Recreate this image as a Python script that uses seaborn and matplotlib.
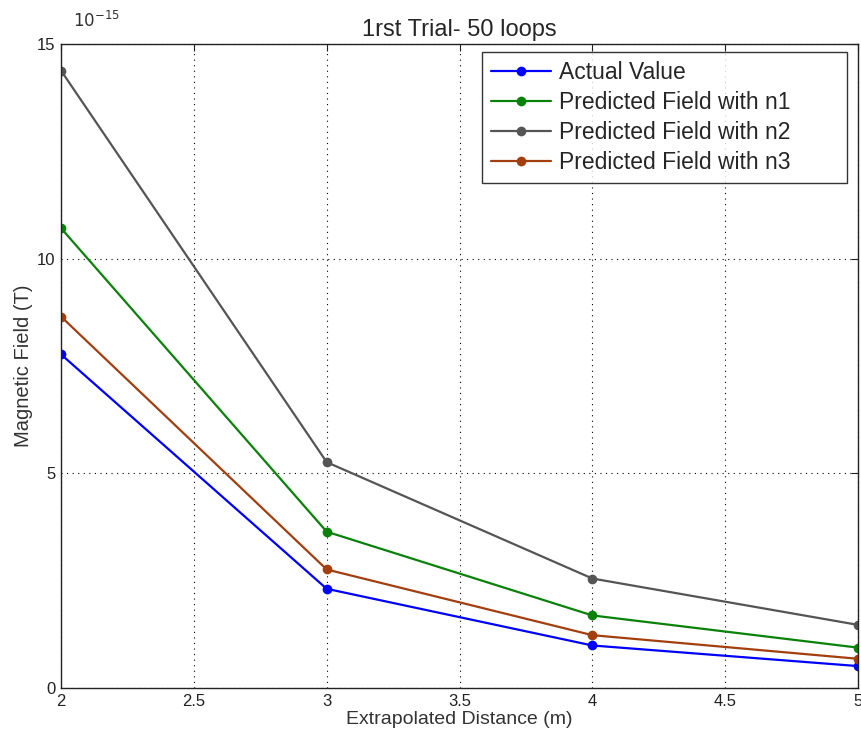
import pandas as pd
import matplotlib
matplotlib.use("Agg")
import matplotlib.pyplot as plt
import seaborn as sns

# data (field values in units of 1e-15 T)
distance = [2, 3, 4, 5]
actual = [7.77, 2.31, 0.99, 0.51]
pred_n1 = [10.71, 3.64, 1.69, 0.94]
pred_n2 = [14.38, 5.26, 2.55, 1.47]
pred_n3 = [8.65, 2.76, 1.23, 0.68]

series_names = [
    "Actual Value",
    "Predicted Field with n1",
    "Predicted Field with n2",
    "Predicted Field with n3",
]
colors = ["#0000ff", "#0a820a", "#555555", "#a33f0f"]

# long form table for seaborn
rows = []
for name, vals in zip(series_names, [actual, pred_n1, pred_n2, pred_n3]):
    for d, v in zip(distance, vals):
        rows.append({"distance": d, "field": v, "series": name})
df = pd.DataFrame(rows)

sns.set_style("white")
plt.rcParams["font.family"] = ["Liberation Sans", "DejaVu Sans"]

fig = plt.figure(figsize=(8.61, 7.42), dpi=100)
ax = fig.add_axes([0.0709, 0.0728, 0.9256, 0.8679])

sns.lineplot(
    data=df,
    x="distance",
    y="field",
    hue="series",
    hue_order=series_names,
    palette=colors,
    marker="o",
    markersize=7,
    markeredgewidth=0,
    linewidth=1.6,
    ax=ax,
)

ax.set_xlim(2, 5)
ax.set_ylim(0, 15)
ax.set_xticks([2, 2.5, 3, 3.5, 4, 4.5, 5])
ax.set_xticklabels(["2", "2.5", "3", "3.5", "4", "4.5", "5"])
ax.set_yticks([0, 5, 10, 15])
ax.set_yticklabels(["0", "5", "10", "15"])
ax.grid(True, color="black", linestyle=(0, (1, 4)), linewidth=0.8)
ax.tick_params(direction="in", top=True, right=True, length=5,
               labelsize=12, colors="#222222", pad=4)
for s in ax.spines.values():
    s.set_color("#222222")
    s.set_linewidth(1.0)

ax.set_xlabel("Extrapolated Distance (m)", fontsize=14, color="#333333",
              labelpad=2)
ax.set_ylabel("Magnetic Field (T)", fontsize=14.5, color="#333333",
              labelpad=3)
ax.set_title("1rst Trial- 50 loops", fontsize=17, pad=6)
ax.text(0.015, 1.022, "$10^{-15}$", transform=ax.transAxes,
        fontsize=12, color="#333333", ha="left", va="bottom")

# matlab style legend box, wide with empty room on the right
leg = ax.legend(loc="upper left", bbox_to_anchor=(0.528, 0.9876, 0.458, 0.0),
                mode="expand", fontsize=16.5, frameon=True, fancybox=False,
                edgecolor="black", borderaxespad=0.0, handlelength=2.6,
                labelspacing=0.3, borderpad=0.4, handletextpad=0.35)
leg.get_frame().set_linewidth(1.0)

fig.savefig("out.png", dpi=100)
